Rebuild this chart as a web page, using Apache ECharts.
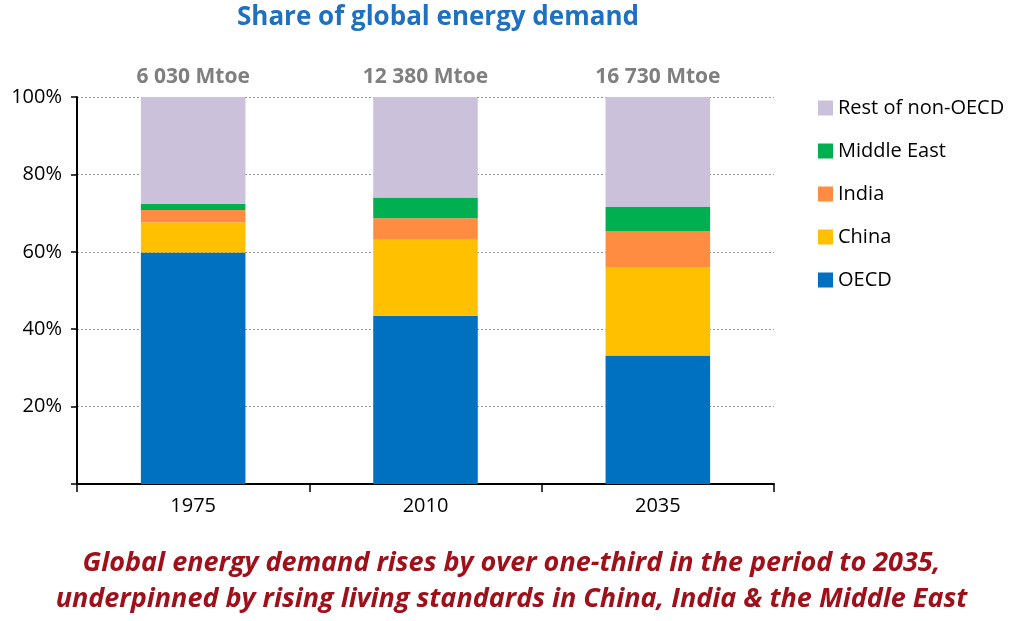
<!DOCTYPE html>
<html>
<head>
<meta charset="utf-8">
<script src="https://cdn.jsdelivr.net/npm/echarts@6/dist/echarts.min.js"></script>
<style>
html,body{margin:0;padding:0;background:#fff;}
#chart{width:1023px;height:621px;}
</style>
</head>
<body>
<div id="chart"></div>
<script>
const categories = ['1975', '2010', '2035'];
const totals = ['6 030 Mtoe', '12 380 Mtoe', '16 730 Mtoe'];
const oecd = [59.8, 43.5, 33.2];
const china = [7.8, 19.8, 22.9];
const india = [3.2, 5.4, 9.3];
const middleEast = [1.6, 5.3, 6.2];
const restNonOecd = [27.6, 26.0, 28.4];
const yTicks = [0, 20, 40, 60, 80, 100];

const FONT = 'Open Sans';
const chart = echarts.init(document.getElementById('chart'), null, {renderer: 'canvas'});

function bar(name, data, color, extra) {
  return Object.assign({
    name: name, type: 'bar', stack: 'total', data: data,
    barWidth: '45%', itemStyle: {color: color}
  }, extra || {});
}

chart.setOption({
  animation: false,
  textStyle: {fontFamily: FONT},
  grid: {left: 77, right: 249, top: 97, bottom: 137},
  legend: {
    orient: 'vertical', left: 813, top: 93,
    itemWidth: 15, itemHeight: 15, itemGap: 23,
    icon: 'rect',
    data: ['Rest of non-OECD', 'Middle East', 'India', 'China', 'OECD'],
    textStyle: {fontFamily: FONT, fontSize: 20, color: '#000', padding: [0, 0, 0, 0]}
  },
  xAxis: {
    type: 'category', data: categories,
    axisLine: {lineStyle: {color: '#000', width: 2}},
    axisTick: {show: true, length: 8, alignWithLabel: false, lineStyle: {color: '#000', width: 1.5}},
    axisLabel: {fontFamily: FONT, fontSize: 20, color: '#000', margin: 12}
  },
  yAxis: {
    type: 'value', min: 0, max: 100, interval: 20,
    axisLine: {show: true, lineStyle: {color: '#000', width: 2}},
    axisTick: {show: true, length: 6, lineStyle: {color: '#000', width: 1.5}},
    axisLabel: {
      fontFamily: FONT, fontSize: 20, color: '#000', margin: 15,
      formatter: function (v) { return v === 0 ? '' : v + '%'; }
    },
    splitLine: {show: true, lineStyle: {color: '#999', type: [2, 2], width: 1}}
  },
  series: [
    bar('OECD', oecd, '#0070C0'),
    bar('China', china, '#FFC000'),
    bar('India', india, '#FF8C40'),
    bar('Middle East', middleEast, '#00B050'),
    bar('Rest of non-OECD', restNonOecd, '#CCC1DA', {
      label: {
        show: true, position: 'top', distance: 9,
        fontFamily: FONT, fontWeight: 'bold', fontSize: 21, color: '#7F7F7F',
        formatter: function (p) { return totals[p.dataIndex]; }
      }
    })
  ],
  graphic: [
    {
      type: 'text', left: 237, top: 5,
      style: {
        text: 'Share of global energy demand',
        font: 'bold 26px "Open Sans"', fill: '#1F70C1'
      }
    },
    {
      type: 'text', left: 'center', top: 550,
      style: {
        text: 'Global energy demand rises by over one-third in the period to 2035,',
        font: 'italic bold 27px "Open Sans"', fill: '#A0101A'
      }
    },
    {
      type: 'text', left: 'center', top: 586,
      style: {
        text: 'underpinned by rising living standards in China, India & the Middle East',
        font: 'italic bold 27px "Open Sans"', fill: '#A0101A'
      }
    }
  ]
});
</script>
</body>
</html>
